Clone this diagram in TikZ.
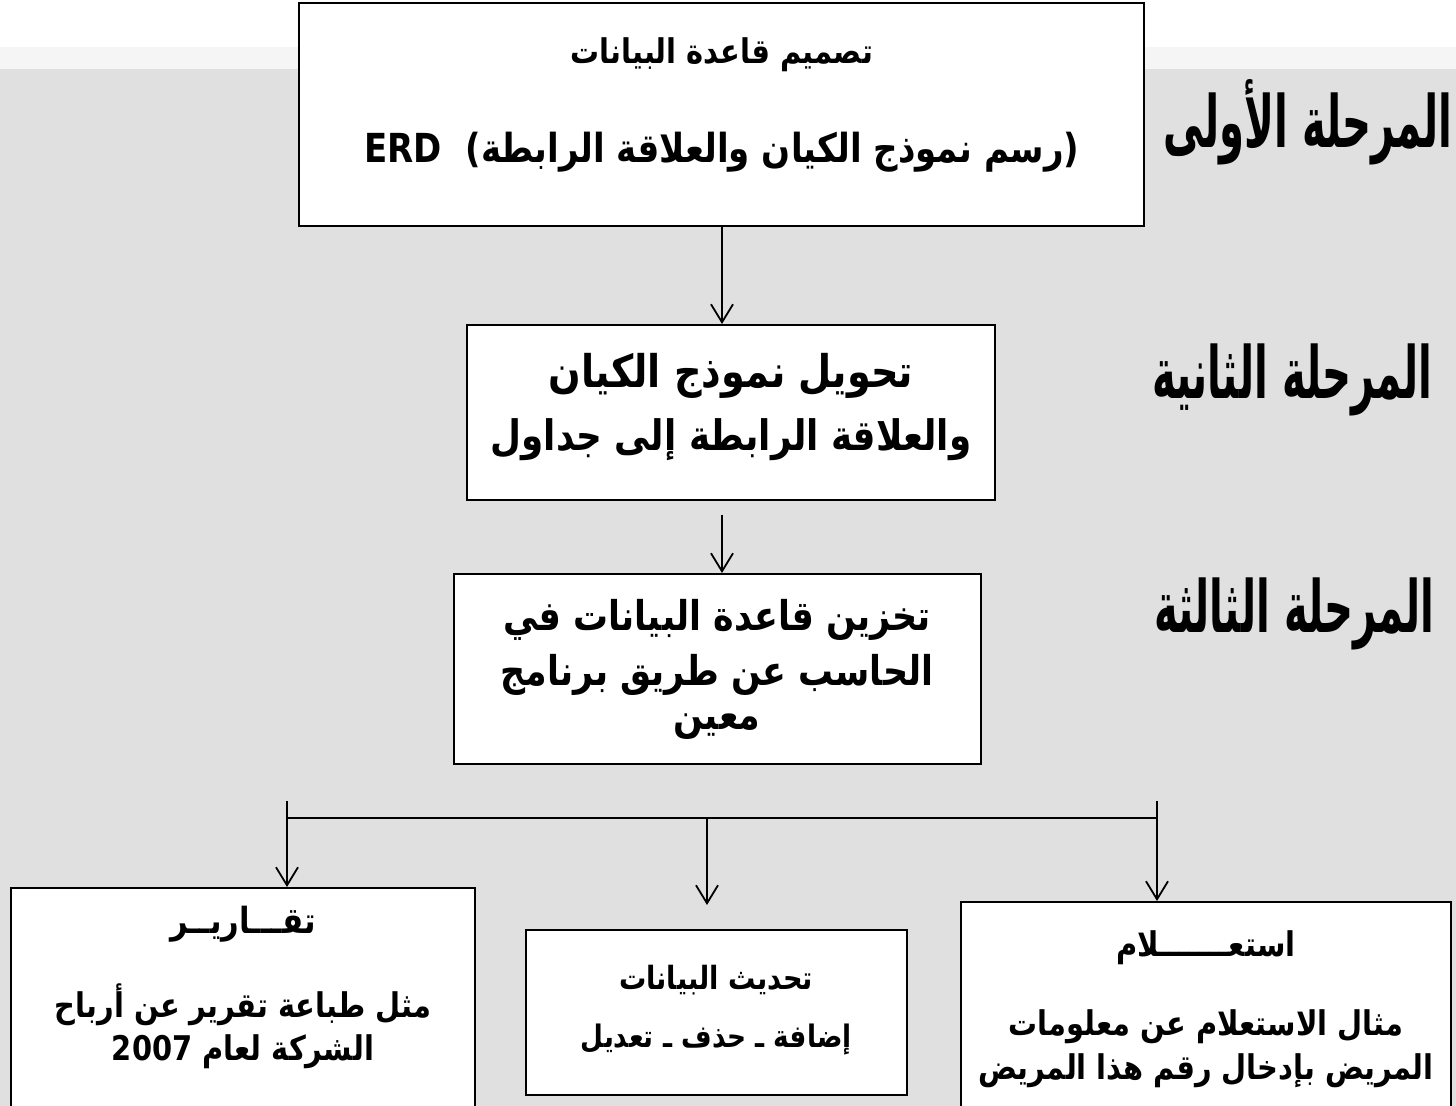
\documentclass[tikz,border=0pt]{standalone}
\usepackage{fontspec}
\usetikzlibrary{arrows.meta,fit}
\TeXXeTstate=1
\newfontfamily\arabicfont[Script=Arabic, FakeStretch=0.85]{DejaVu Sans}
\newfontfamily\stagefont[Script=Arabic, FakeStretch=0.62]{DejaVu Sans Condensed}
\definecolor{slidegray}{RGB}{224,224,224}
\definecolor{bandgray}{RGB}{245,245,245}

\begin{document}
\begin{tikzpicture}[x=0.5pt,y=-0.5pt,
  box/.style={draw=black, line width=1pt, fill=white, inner sep=0pt},
  txt/.style={font=\arabicfont\bfseries\fontsize{#1}{#1}\selectfont, inner sep=0pt},
  txt/.default=16,
  flow/.style={line width=0.9pt, -{Straight Barb[length=9pt,width=11pt,line width=0.9pt]}},
  stage/.style={font=\stagefont\bfseries\fontsize{36}{36}\selectfont, inner sep=0pt, anchor=east}]
\useasboundingbox (0,0) rectangle (1456,1106);

% slide background
\fill[slidegray] (0,69) rectangle (1456,1106);
\fill[bandgray] (0,47) rectangle (1456,69);

% process boxes
\node[box, fit={(299,3) (1144,226)}] (design) {};
\node[box, fit={(467,325) (995,500)}] (convert) {};
\node[box, fit={(454,574) (981,764)}] (store) {};
\node[box, fit={(11,888) (475,1120)}] (reports) {};
\node[box, fit={(526,930) (907,1095)}] (update) {};
\node[box, fit={(961,902) (1451,1120)}] (query) {};

% box texts
\node[txt=17] (d1) at (722,55) {\beginR تصميم قاعدة البيانات\endR};
\node[txt=20] (d2) at (722,152) {\beginR (رسم نموذج الكيان والعلاقة الرابطة)\ \ \beginL ERD\endL\endR};

\node[txt=22.5] (c1) at (731,376) {\beginR تحويل نموذج الكيان\endR};
\node[txt=21] (c2) at (731,440) {\beginR والعلاقة الرابطة إلى جداول\endR};

\node[txt=20.5] (s1) at (717,620) {\beginR تخزين قاعدة البيانات في\endR};
\node[txt=20.5] (s2) at (717,675) {\beginR الحاسب عن طريق برنامج\endR};
\node[txt=20.5] (s3) at (717,727) {\beginR معين\endR};

\node[txt=18] (r1) at (243,924) {\beginR تقـــاريــر\endR};
\node[txt=17] (r2) at (243,1005) {\beginR مثل طباعة تقرير عن أرباح\endR};
\node[txt=17] (r3) at (243,1052) {\beginR الشركة لعام \beginL 2007\endL\endR};

\node[txt=16] (u1) at (716,980) {\beginR تحديث البيانات\endR};
\node[txt=15.5] (u2) at (716,1040) {\beginR إضافة\hspace{0.3em}ـ\hspace{0.3em}حذف\hspace{0.3em}ـ\hspace{0.3em}تعديل\endR};

\node[txt=17] (q1) at (1206,948) {\beginR استعـــــــلام\endR};
\node[txt=17] (q2) at (1206,1027) {\beginR مثال الاستعلام عن معلومات\endR};
\node[txt=17] (q3) at (1206,1071) {\beginR المريض بإدخال رقم هذا المريض\endR};

% stage labels
\node[stage] (st1) at (1453,122) {\beginR المرحلة الأولى\endR};
\node[stage] (st2) at (1433,380) {\beginR المرحلة الثانية\endR};
\node[stage] (st3) at (1435,614) {\beginR المرحلة الثالثة\endR};

% connectors
\coordinate (a1) at (722,226);
\draw[flow] (a1) -- (a1 |- convert.north);
\coordinate (a2) at (722,515);
\draw[flow] (a2) -- (a2 |- store.north);

\coordinate (hl) at (287,818);
\coordinate (hr) at (1157,818);
\coordinate (tl) at (287,801);
\coordinate (tr) at (1157,801);
\coordinate (hm) at (707,818);
\coordinate (mtip) at (707,905);
\draw[line width=0.9pt] (hl) -- (hr);
\draw[flow] (tl) -- (tl |- reports.north);
\draw[flow] (hm) -- (mtip);
\draw[flow] (tr) -- (tr |- query.north);
\end{tikzpicture}
\end{document}
